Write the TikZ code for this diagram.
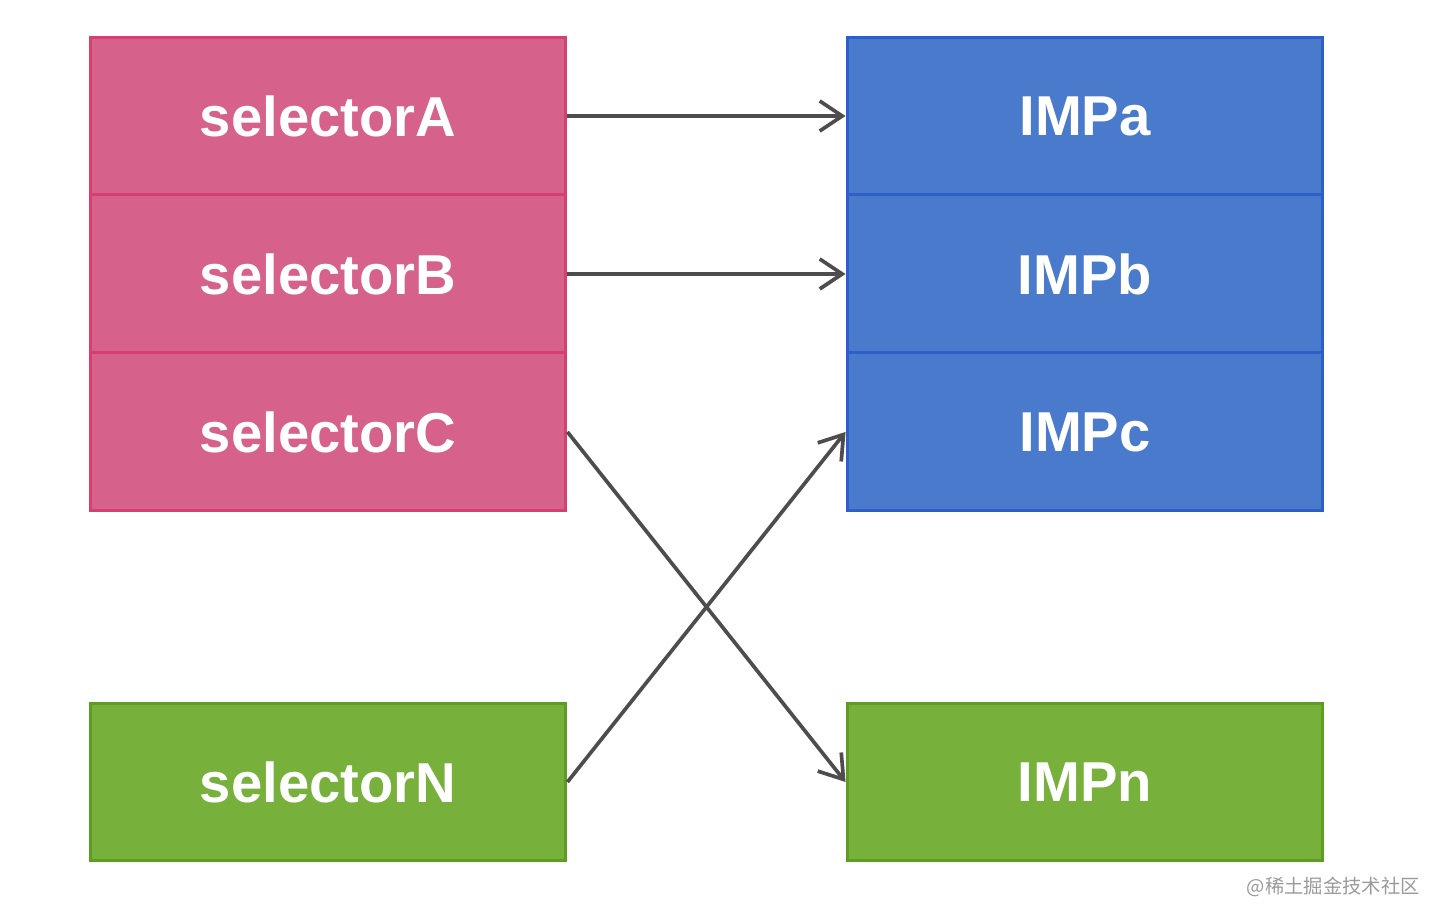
\documentclass[tikz,border=0pt]{standalone}
\usepackage{fontspec}
\setsansfont{Liberation Sans}
\newfontfamily\cjkfont{Noto Sans CJK SC}
\usetikzlibrary{arrows.meta,positioning}
\definecolor{SelPink}{HTML}{D6618A}
\definecolor{SelPinkLine}{HTML}{D63F70}
\definecolor{ImpBlue}{HTML}{4A7ACB}
\definecolor{ImpBlueLine}{HTML}{2D5FC8}
\definecolor{NewGreen}{HTML}{78B03C}
\definecolor{NewGreenLine}{HTML}{5C9E22}
\definecolor{LinkGray}{HTML}{4D4D4D}
\definecolor{MarkGray}{HTML}{9A9A9A}
\tikzset{
  cellbox/.style={line width=1.7pt, minimum width=9.52cm, minimum height=3.16cm, inner sep=0pt, text=white, font=\sffamily\bfseries\fontsize{32}{36}\selectfont},
  selbox/.style={cellbox, draw=SelPinkLine, fill=SelPink},
  impbox/.style={cellbox, draw=ImpBlueLine, fill=ImpBlue},
  newbox/.style={cellbox, draw=NewGreenLine, fill=NewGreen},
  link/.style={-{Straight Barb[length=4.5mm,width=6mm]}, line width=2.1pt, color=LinkGray}
}

\begin{document}
\begin{tikzpicture}[x=0.02cm, y=-0.02cm, node distance=0pt]
  \useasboundingbox (0,0) rectangle (1444,922);
  % left column: selectors
  \node[selbox] (selA) at (328,116) {selectorA};
  \node[selbox, below=-1.7pt of selA] (selB) {selectorB};
  \node[selbox, below=-1.7pt of selB] (selC) {selectorC};
  \node[newbox] (selN) at (328,782) {selectorN};
  % right column: implementations
  \node[impbox] (impA) at (1085,116) {IMPa};
  \node[impbox, below=-1.7pt of impA] (impB) {IMPb};
  \node[impbox, below=-1.7pt of impB] (impC) {IMPc};
  \node[newbox] (impN) at (1085,782) {IMPn};
  \draw[link] (selA) -- (impA);
  \draw[link] (selB) -- (impB);
  \draw[link] (selC.east) -- (impN.west);
  \draw[link] (selN.east) -- (impC.west);
  \node[text=MarkGray, font=\cjkfont\fontsize{11}{12}\selectfont, anchor=east, inner sep=0pt] (mark) at (1420,887) {@稀土掘金技术社区};
\end{tikzpicture}
\end{document}
